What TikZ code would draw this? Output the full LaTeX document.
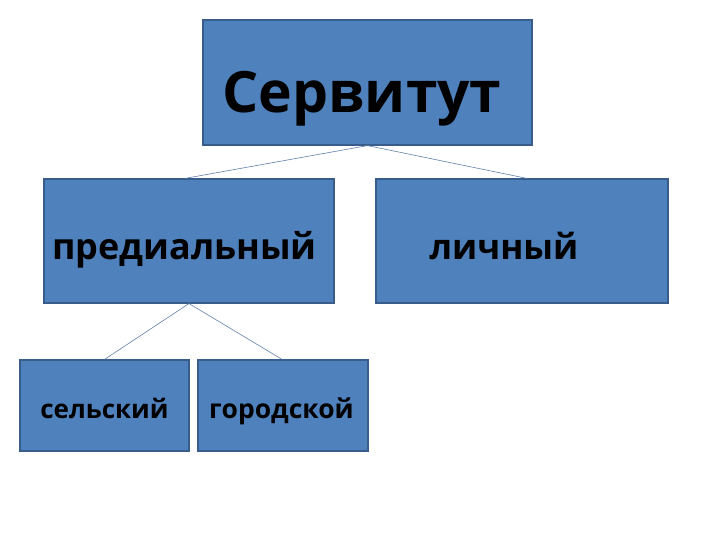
\documentclass[tikz,border=0pt]{standalone}
\usepackage{fontspec}
\setmainfont{Open Sans}
\definecolor{boxfill}{RGB}{79,129,189}
\definecolor{boxline}{RGB}{56,93,138}
\definecolor{linkline}{RGB}{96,128,170}
\begin{document}
\begin{tikzpicture}[x=1pt, y=-1pt,
    box/.style={draw=boxline, fill=boxfill, line width=1.2pt, inner sep=0pt},
    txt/.style={anchor=base, inner sep=0pt},
    link/.style={draw=linkline, line width=0.6pt}]

    \useasboundingbox (0,0) rectangle (720,540);
    % boxes
    \node[box, minimum width=329pt, minimum height=125pt] (serv) at (367.5,82.5) {};
    \node[box, minimum width=290pt, minimum height=124pt] (pred) at (189,241) {};
    \node[box, minimum width=292pt, minimum height=124pt] (lich) at (522,241) {};
    \node[box, minimum width=169pt, minimum height=91pt] (sel) at (104.5,405.5) {};
    \node[box, minimum width=170pt, minimum height=91pt] (gor) at (283,405.5) {};
    % labels
    \node[txt, font=\fontsize{57}{60}\selectfont\bfseries] (servtxt) at (362,113) {Сервитут};
    \node[txt, font=\fontsize{36}{38}\selectfont\bfseries] (predtxt) at (184.5,259) {предиальный};
    \node[txt, font=\fontsize{35}{38}\selectfont\bfseries] (lichtxt) at (504,259) {личный};
    \node[txt, font=\fontsize{26}{28}\selectfont\bfseries] (seltxt) at (104.5,418) {сельский};
    \node[txt, font=\fontsize{26.5}{28}\selectfont\bfseries] (gortxt) at (281.5,418) {городской};
    % connectors
    \draw[link] (serv.south) -- ([xshift=-4pt]pred.north);
    \draw[link] (serv.south) -- ([xshift=5pt]lich.north);
    \draw[link] (pred.south) -- (sel.north);
    \draw[link] (pred.south) -- ([xshift=-1pt]gor.north);
\end{tikzpicture}
\end{document}
